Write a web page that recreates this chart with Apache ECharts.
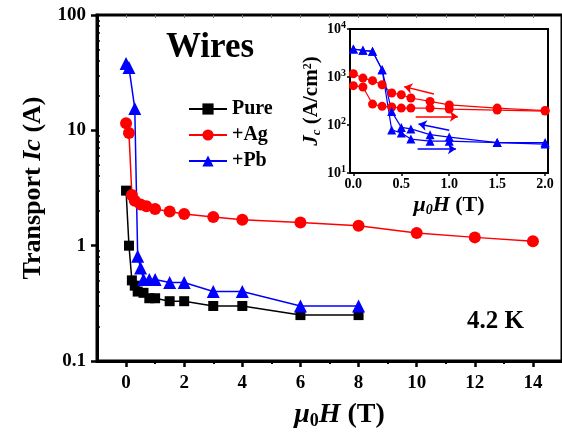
<!DOCTYPE html>
<html><head><meta charset="utf-8">
<script src="https://cdn.jsdelivr.net/npm/echarts@6/dist/echarts.min.js"></script>
<style>html,body{margin:0;padding:0;background:#fff}#c{width:562px;height:435px}</style>
</head><body><div id="c"></div>
<script>
// ---- main panel data (mu0H in T, Ic in A) ----
const pureH  = [0, 0.1, 0.2, 0.3, 0.4, 0.6, 0.8, 1, 1.5, 2, 3, 4, 6, 8];
const pureIc = [3.0, 1.0, 0.50, 0.45, 0.40, 0.39, 0.35, 0.35, 0.33, 0.33, 0.30, 0.30, 0.25, 0.25];
const agH    = [0, 0.1, 0.2, 0.3, 0.5, 0.7, 1, 1.5, 2, 3, 4, 6, 8, 10, 12, 14];
const agIc   = [11.5, 9.5, 2.75, 2.45, 2.27, 2.2, 2.08, 1.98, 1.88, 1.77, 1.68, 1.59, 1.49, 1.29, 1.18, 1.09];
const pbH    = [0, 0.1, 0.3, 0.4, 0.5, 0.6, 0.8, 1, 1.5, 2, 3, 4, 6, 8];
const pbIc   = [38, 35, 15.5, 0.81, 0.64, 0.51, 0.51, 0.51, 0.48, 0.48, 0.40, 0.40, 0.30, 0.30];
const mainXLabels = [0, 2, 4, 6, 8, 10, 12, 14];
const mainXMinor  = [1, 3, 5, 7, 9, 11, 13];
const mainYMinor  = [0.2,0.3,0.4,0.5,0.6,0.7,0.8,0.9,2,3,4,5,6,7,8,9,20,30,40,50,60,70,80,90];

// ---- inset data (mu0H in T, Jc in A/cm2) ----
const insetH      = [0, 0.1, 0.2, 0.3, 0.4, 0.5, 0.6, 0.8, 1, 1.5, 2];
const agJcDown    = [1170, 950, 840, 690, 465, 427, 365, 310, 262, 225, 200];
const agJcUp      = [660, 620, 273, 245, 237, 225, 225, 225, 215, 205, 195];
const pbJcDown    = [3830, 3600, 3430, 1420, 190, 89, 83, 63, 56, 43, 43];
const pbJcUp      = [3830, 3600, 3430, 1420, 79, 68, 51, 46, 46, 43, 40];
const insetXLabels = [0, 0.5, 1, 1.5, 2];
// sweep-direction arrows (from, to) in data units
const agArrowDown = [[0.84, 443], [0.53, 630]];
const agArrowUp   = [[0.65, 151], [1.09, 151]];
const pbArrowDown = [[1.0, 78], [0.68, 105]];
const pbArrowUp   = [[0.67, 31.6], [1.07, 31.6]];

const zip = (a, b) => a.map((v, i) => [v, b[i]]);
const F = 'Liberation Serif, Times New Roman, serif';
const RED = '#ff0000', BLUE = '#0000ff', BLK = '#000000';

function arrow(pts, color) {
  return {
    silent: true, symbol: ['none', 'arrow'], symbolSize: 8,
    lineStyle: { color: color, width: 1.5, type: 'solid' }, label: { show: false },
    emphasis: { disabled: true },
    data: [[{ coord: pts[0] }, { coord: pts[1] }]]
  };
}

const chart = echarts.init(document.getElementById('c'), null, { renderer: 'canvas' });
chart.setOption({
  animation: false,
  backgroundColor: '#fff',
  textStyle: { fontFamily: F },
  grid: [
    { left: 97, top: 15, right: -4, bottom: 73, show: true, borderColor: BLK, borderWidth: 3, backgroundColor: 'transparent' },
    { left: 350, top: 29, width: 198, height: 144, show: true, borderColor: BLK, borderWidth: 2, backgroundColor: '#fff' }
  ],
  legend: {
    data: ['Pure', '+Ag', '+Pb'], orient: 'vertical', left: 183, top: 94, itemGap: 6,
    itemWidth: 38, itemHeight: 14,
    textStyle: { fontFamily: F, fontWeight: 'bold', fontSize: 20, color: BLK }
  },
  xAxis: [
    { gridIndex: 0, type: 'value', min: -1, max: 15, position: 'bottom',
      name: '{m|μ}{s|0}{h|H}{n| (T)}', nameLocation: 'middle', nameGap: 38,
      nameTextStyle: { padding: [0, 0, 0, 20], rich: {
        m: { fontFamily: F, fontSize: 28, fontWeight: 'bold', fontStyle: 'italic', color: BLK },
        s: { fontFamily: F, fontSize: 18, fontWeight: 'bold', color: BLK, padding: [13, 0, 0, 0] },
        h: { fontFamily: F, fontSize: 28, fontWeight: 'bold', fontStyle: 'italic', color: BLK },
        n: { fontFamily: F, fontSize: 28, fontWeight: 'bold', color: BLK } } },
      axisLine: { show: true, onZero: false, lineStyle: { color: BLK, width: 3 } },
      axisTick: { show: true, customValues: mainXLabels, length: 6, lineStyle: { color: BLK, width: 2.5 } },
      axisLabel: { customValues: mainXLabels, fontFamily: F, fontWeight: 'bold', fontSize: 19, color: BLK, margin: 13 },
      splitLine: { show: false } },
    { gridIndex: 0, type: 'value', min: -1, max: 15, position: 'bottom',
      axisLine: { show: false, onZero: false }, axisLabel: { show: false }, splitLine: { show: false },
      axisTick: { show: true, customValues: mainXMinor, length: 3, lineStyle: { color: BLK, width: 2 } } },
    { gridIndex: 0, type: 'value', min: -1, max: 15, position: 'top',
      axisLine: { show: false, onZero: false }, axisLabel: { show: false }, splitLine: { show: false },
      axisTick: { show: true, inside: true, customValues: mainXMinor.concat(mainXLabels), length: 3, lineStyle: { color: '#777', width: 1 } } },
    { gridIndex: 1, type: 'value', min: -0.035, max: 2.03,
      name: '{m|μ}{s|0}{h|H}{n| (T)}', nameLocation: 'middle', nameGap: 20,
      nameTextStyle: { rich: {
        m: { fontFamily: F, fontSize: 22, fontWeight: 'bold', fontStyle: 'italic', color: BLK },
        s: { fontFamily: F, fontSize: 14, fontWeight: 'bold', fontStyle: 'italic', color: BLK, padding: [10, 0, 0, 0] },
        h: { fontFamily: F, fontSize: 22, fontWeight: 'bold', fontStyle: 'italic', color: BLK },
        n: { fontFamily: F, fontSize: 22, fontWeight: 'bold', color: BLK } } },
      axisLine: { show: true, onZero: false, lineStyle: { color: BLK, width: 2 } },
      axisTick: { show: true, customValues: insetXLabels, length: 3, lineStyle: { color: BLK, width: 1.5 } },
      axisLabel: { customValues: insetXLabels, formatter: v => v.toFixed(1), fontFamily: F, fontWeight: 'bold', fontSize: 14, color: BLK, margin: 4 },
      splitLine: { show: false } }
  ],
  yAxis: [
    { gridIndex: 0, type: 'log', logBase: 10, min: 0.1, max: 100,
      name: '{a|Transport }{b|Ic}{a| (A)}', nameLocation: 'middle', nameGap: 50, nameRotate: 90,
      nameTextStyle: { rich: {
        a: { fontFamily: F, fontSize: 26, fontWeight: 'bold', color: BLK },
        b: { fontFamily: F, fontSize: 26, fontWeight: 'bold', fontStyle: 'italic', color: BLK } } },
      axisLine: { show: true, onZero: false, lineStyle: { color: BLK, width: 3 } },
      axisTick: { show: true, length: 6, lineStyle: { color: BLK, width: 2.5 } },
      axisLabel: { formatter: v => (v < 1 ? v.toFixed(1) : String(Math.round(v))), fontFamily: F, fontWeight: 'bold', fontSize: 19, color: BLK, margin: 11 },
      splitLine: { show: false } },
    { gridIndex: 0, type: 'log', logBase: 10, min: 0.1, max: 100, position: 'left',
      axisLine: { show: false, onZero: false }, axisLabel: { show: false }, splitLine: { show: false },
      axisTick: { show: true, inside: true, customValues: mainYMinor, length: 3, lineStyle: { color: BLK, width: 1.5 } } },
    { gridIndex: 1, type: 'log', logBase: 10, min: 10, max: 10000,
      name: '{j|J}{c|c}{a| (A/cm}{p|2}{a|)}', nameLocation: 'middle', nameGap: 27, nameRotate: 90,
      nameTextStyle: { rich: {
        j: { fontFamily: F, fontSize: 21, fontWeight: 'bold', fontStyle: 'italic', color: BLK },
        c: { fontFamily: F, fontSize: 13, fontWeight: 'bold', fontStyle: 'italic', color: BLK, padding: [9, 0, 0, 0] },
        a: { fontFamily: F, fontSize: 21, fontWeight: 'bold', color: BLK },
        p: { fontFamily: F, fontSize: 12, fontWeight: 'bold', color: BLK, padding: [0, 0, 9, 0] } } },
      axisLine: { show: true, onZero: false, lineStyle: { color: BLK, width: 2 } },
      axisTick: { show: true, length: 3, lineStyle: { color: BLK, width: 1.5 } },
      axisLabel: { formatter: v => '{b|10}{s|' + Math.round(Math.log10(v)) + '}', margin: 4,
        rich: { b: { fontFamily: F, fontWeight: 'bold', fontSize: 14, color: BLK },
                s: { fontFamily: F, fontWeight: 'bold', fontSize: 10, color: BLK, padding: [0, 0, 8, 0] } } },
      splitLine: { show: false } }
  ],
  graphic: [
    { type: 'text', left: 166, top: 30, style: { text: 'Wires', font: 'bold 35px ' + F, fill: BLK } },
    { type: 'text', left: 467, top: 309, style: { text: '4.2 K', font: 'bold 25px ' + F, fill: BLK } }
  ],
  series: [
    { name: 'Pure', type: 'line', xAxisIndex: 0, yAxisIndex: 0, data: zip(pureH, pureIc),
      symbol: 'rect', symbolSize: 10, itemStyle: { color: BLK }, lineStyle: { color: BLK, width: 1.5 } },
    { name: '+Ag', type: 'line', xAxisIndex: 0, yAxisIndex: 0, data: zip(agH, agIc),
      symbol: 'circle', symbolSize: 12, itemStyle: { color: RED }, lineStyle: { color: RED, width: 1.5 } },
    { name: '+Pb', type: 'line', xAxisIndex: 0, yAxisIndex: 0, data: zip(pbH, pbIc),
      symbol: 'triangle', symbolSize: 13, itemStyle: { color: BLUE }, lineStyle: { color: BLUE, width: 1.5 } },
    { name: 'agDown', type: 'line', xAxisIndex: 3, yAxisIndex: 2, data: zip(insetH, agJcDown),
      symbol: 'circle', symbolSize: 9, itemStyle: { color: RED }, lineStyle: { color: RED, width: 1.2 },
      markLine: arrow(agArrowDown, RED) },
    { name: 'agUp', type: 'line', xAxisIndex: 3, yAxisIndex: 2, data: zip(insetH, agJcUp),
      symbol: 'circle', symbolSize: 9, itemStyle: { color: RED }, lineStyle: { color: RED, width: 1.2 },
      markLine: arrow(agArrowUp, RED) },
    { name: 'pbDown', type: 'line', xAxisIndex: 3, yAxisIndex: 2, data: zip(insetH, pbJcDown),
      symbol: 'triangle', symbolSize: 9, itemStyle: { color: BLUE }, lineStyle: { color: BLUE, width: 1.2 },
      markLine: arrow(pbArrowDown, BLUE) },
    { name: 'pbUp', type: 'line', xAxisIndex: 3, yAxisIndex: 2, data: zip(insetH, pbJcUp),
      symbol: 'triangle', symbolSize: 9, itemStyle: { color: BLUE }, lineStyle: { color: BLUE, width: 1.2 },
      markLine: arrow(pbArrowUp, BLUE) }
  ]
});
</script></body></html>
